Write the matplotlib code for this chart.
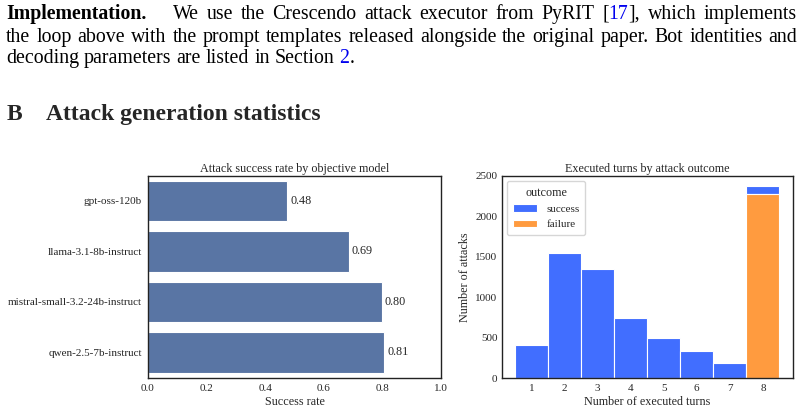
import matplotlib
matplotlib.use("Agg")
import matplotlib.pyplot as plt
import numpy as np
import seaborn as sns

# data
models = ["gpt-oss-120b", "llama-3.1-8b-instruct", "mistral-small-3.2-24b-instruct", "qwen-2.5-7b-instruct"]
success_rate = [0.476, 0.686, 0.798, 0.806]

turns = [1, 2, 3, 4, 5, 6, 7, 8]
success_counts = [411, 1542, 1349, 744, 497, 333, 185, 99]
failure_counts = [0, 0, 0, 0, 0, 0, 0, 2278]

para_lines = [
    [("Implementation.", "black", "bold")],
    [("We use the Crescendo attack executor from PyRIT [", "black", "normal"), ("17", "#0000ee", "normal"),
     ("], which implements", "black", "normal")],
    [("the loop above with the prompt templates released alongside the original paper. Bot identities and", "black", "normal")],
    [("decoding parameters are listed in Section ", "black", "normal"), ("2", "#0000ee", "normal"), (".", "black", "normal")],
]

sns.set_style("white")
plt.rcParams["font.family"] = ["Liberation Serif", "DejaVu Serif"]
plt.rcParams["axes.edgecolor"] = "#222222"
plt.rcParams["axes.linewidth"] = 1.0

fig = plt.figure(figsize=(8.04, 4.12), dpi=100)
W, H = 804, 412
renderer = fig.canvas.get_renderer()
PARA = 14.3


def place_words(segs, y, x0, x1=None, size=PARA):
    # split segments into words (each word may have several coloured pieces)
    words = [[]]
    for txt, col, wt in segs:
        parts = txt.split(" ")
        for i, p in enumerate(parts):
            if i > 0:
                words.append([])
            if p:
                words[-1].append((p, col, wt))
    words = [w for w in words if w]
    arts = []
    widths = []
    for w in words:
        wa = []
        tot = 0
        for p, col, wt in w:
            t = fig.text(0, 1 - y / H, p, color=col, fontweight=wt, fontsize=size, va="baseline", ha="left")
            bb = t.get_window_extent(renderer)
            wa.append((t, bb.width))
            tot += bb.width
        arts.append(wa)
        widths.append(tot)
    probe = fig.text(0, 0, "x x", fontsize=size)
    probe2 = fig.text(0, 0, "xx", fontsize=size)
    space = probe.get_window_extent(renderer).width - probe2.get_window_extent(renderer).width
    probe.remove()
    probe2.remove()
    if x1 is not None and len(words) > 1:
        gap = (x1 - x0 - sum(widths)) / (len(words) - 1)
    else:
        gap = space
    x = x0
    for wa, tw in zip(arts, widths):
        xx = x
        for t, bw in wa:
            t.set_x(xx / W)
            xx += bw
        x += tw + gap


place_words(para_lines[0], 19, 6)
place_words(para_lines[1], 19, 173, 797)
place_words(para_lines[2], 42, 6, 797)
place_words(para_lines[3], 63, 6)

fig.text(7 / W, 1 - 120 / H, "B", fontsize=17, fontweight="bold", va="baseline")
fig.text(46 / W, 1 - 120 / H, "Attack generation statistics", fontsize=17, fontweight="bold", va="baseline")

FS = 8
LS = 8.7

# left: success rate by model
ax1 = fig.add_axes([148 / W, 1 - 377.7 / H, 293 / W, 202 / H])
y = np.arange(len(models))
ax1.barh(y, success_rate, height=0.8, color="#5975a4", edgecolor="white", linewidth=0.8)
for yi, v in zip(y, success_rate):
    ax1.text(v + 0.01, yi, f"{v:.2f}", va="center", ha="left", fontsize=LS)
ax1.set_yticks(y)
ax1.set_yticklabels(models, fontsize=FS)
ax1.set_ylim(len(models) - 0.5, -0.5)
ax1.set_xlim(0, 1.0)
ax1.set_xticks(np.arange(0, 1.01, 0.2))
ax1.set_xticklabels([f"{v:.1f}" for v in np.arange(0, 1.01, 0.2)], fontsize=FS)
ax1.set_xlabel("Success rate", fontsize=LS, labelpad=2)
ax1.set_title("Attack success rate by objective model", fontsize=LS, pad=3)
ax1.tick_params(length=0, pad=4.5)

# right: executed turns histogram, stacked
ax2 = fig.add_axes([501.7 / W, 1 - 378 / H, 291 / W, 202.3 / H])
ax2.bar(turns, success_counts, width=1.0, bottom=failure_counts, color="#416eff", edgecolor="white",
        linewidth=0.8, label="success")
fail_t = [t for t, f in zip(turns, failure_counts) if f > 0]
fail_v = [f for f in failure_counts if f > 0]
ax2.bar(fail_t, fail_v, width=1.0, color="#ff9b3f", edgecolor="white", linewidth=0.8, label="failure")
ax2.set_xlim(0.1, 8.9)
ax2.set_ylim(0, 2500)
ax2.set_xticks(turns)
ax2.set_xticklabels([str(t) for t in turns], fontsize=FS)
ax2.set_yticks([0, 500, 1000, 1500, 2000, 2500])
ax2.set_yticklabels(["0", "500", "1000", "1500", "2000", "2500"], fontsize=FS)
ax2.set_xlabel("Number of executed turns", fontsize=LS, labelpad=2)
ax2.set_ylabel("Number of attacks", fontsize=LS, labelpad=3)
ax2.set_title("Executed turns by attack outcome", fontsize=LS, pad=3)
ax2.tick_params(axis="x", length=0, pad=4.5)
ax2.tick_params(axis="y", length=0, pad=3)
leg = ax2.legend(title="outcome", loc="upper left", fontsize=FS, title_fontsize=LS, frameon=True,
                 borderpad=0.5, handlelength=2.2)

fig.savefig("out.png", dpi=100)
